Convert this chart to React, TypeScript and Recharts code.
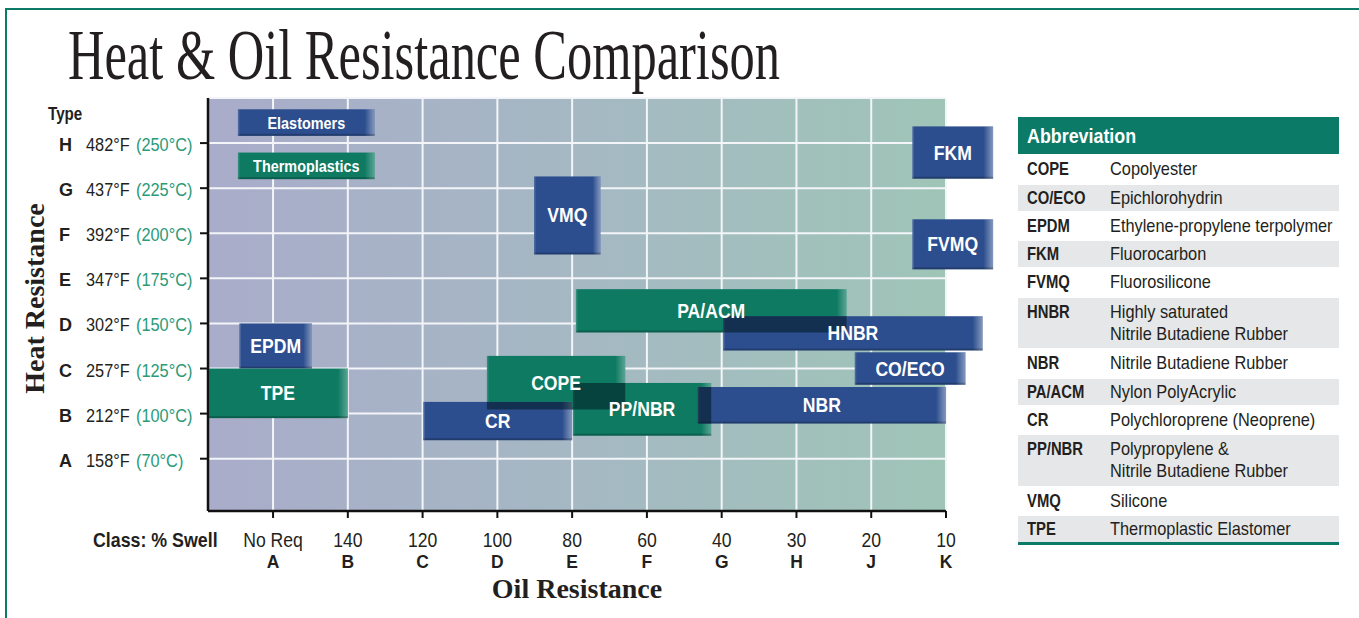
import React from "react";
import { ComposedChart, XAxis, YAxis, CartesianGrid, ReferenceArea, Label } from "recharts";

// x: oil resistance class (A = 0 ... K = 9), y: heat resistance type (A = 0 ... H = 7)
const oilClasses = ["A", "B", "C", "D", "E", "F", "G", "H", "J", "K"];
const oilSwell = ["No Req", "140", "120", "100", "80", "60", "40", "30", "20", "10"];
const heatTypes = ["A", "B", "C", "D", "E", "F", "G", "H"];
const heatF = ["158°F", "212°F", "257°F", "302°F", "347°F", "392°F", "437°F", "482°F"];
const heatC = ["(70°C)", "(100°C)", "(125°C)", "(150°C)", "(175°C)", "(200°C)", "(225°C)", "(250°C)"];

// material boxes (E = elastomer, T = thermoplastic)
const materials = ["Elastomers", "Thermoplastics", "FKM", "FVMQ", "VMQ", "EPDM", "TPE", "PA/ACM", "HNBR", "CO/ECO", "COPE", "CR", "PP/NBR", "NBR"];
const oilFrom = [-0.47, -0.47, 8.55, 8.55, 3.49, -0.45, -0.87, 4.05, 6.02, 7.78, 2.86, 2.01, 4.01, 5.68];
const oilTo = [1.36, 1.36, 9.63, 9.63, 4.38, 0.52, 1.0, 7.67, 9.49, 9.26, 4.71, 4.0, 5.86, 9.0];
const heatFrom = [7.16, 6.2, 6.21, 4.2, 4.53, 2.0, 0.9, 2.8, 2.4, 1.64, 1.09, 0.41, 0.51, 0.78];
const heatTo = [7.75, 6.79, 7.37, 5.31, 6.26, 3.0, 2.0, 3.76, 3.16, 2.36, 2.28, 1.26, 1.68, 1.59];
const family = ["E", "T", "E", "E", "E", "E", "T", "T", "E", "E", "T", "E", "T", "E"];

// abbreviation table
const abbrevs = ["COPE", "CO/ECO", "EPDM", "FKM", "FVMQ", "HNBR", "NBR", "PA/ACM", "CR", "PP/NBR", "VMQ", "TPE"];
const meanings = [
  ["Copolyester"],
  ["Epichlorohydrin"],
  ["Ethylene-propylene terpolymer"],
  ["Fluorocarbon"],
  ["Fluorosilicone"],
  ["Highly saturated", "Nitrile Butadiene Rubber"],
  ["Nitrile Butadiene Rubber"],
  ["Nylon PolyAcrylic"],
  ["Polychloroprene (Neoprene)"],
  ["Polypropylene &", "Nitrile Butadiene Rubber"],
  ["Silicone"],
  ["Thermoplastic Elastomer"],
];

const SANS = "'Liberation Sans', Arial, Helvetica, sans-serif";
const SERIF = "'Liberation Serif', 'Times New Roman', serif";
const INK = "#231f20";
const BLUE = "#2c4e8e";
const GREEN = "#0e7a62";
const TEAL = "#0b7a67";

// overlapping parts of the boxes get darkened
const overlaps: { x1: number; x2: number; y1: number; y2: number }[] = [];
for (let i = 0; i < materials.length; i++) {
  for (let j = i + 1; j < materials.length; j++) {
    const x1 = Math.max(oilFrom[i], oilFrom[j]);
    const x2 = Math.min(oilTo[i], oilTo[j]);
    const y1 = Math.max(heatFrom[i], heatFrom[j]);
    const y2 = Math.min(heatTo[i], heatTo[j]);
    if (x2 - x1 > 0.02 && y2 - y1 > 0.02) overlaps.push({ x1, x2, y1, y2 });
  }
}

const CondText = ({ x, y, s = 0.88, size = 18, bold = false, fill = INK, anchor = "start", children }: any) => (
  <text
    transform={`translate(${x},${y}) scale(${s},1)`}
    x={0}
    y={0}
    textAnchor={anchor}
    fontFamily={SANS}
    fontSize={size}
    fontWeight={bold ? "bold" : "normal"}
    fill={fill}
  >
    {children}
  </text>
);

const HeatTick = (props: any) => {
  const { x, y, payload } = props;
  const i = payload.value;
  const by = y + 8;
  return (
    <g>
      <CondText x={x - 139} y={by} size={19} bold s={0.95}>{heatTypes[i]}</CondText>
      <CondText x={x - 112} y={by} size={19} s={0.86}>{heatF[i]}</CondText>
      <CondText x={x - 62} y={by} size={19} s={0.86} fill="#2a9a78">{heatC[i]}</CondText>
    </g>
  );
};

const OilTick = (props: any) => {
  const { x, y, payload } = props;
  const i = payload.value;
  return (
    <g>
      <CondText x={x} y={y + 27} size={20} anchor="middle">{oilSwell[i]}</CondText>
      <CondText x={x} y={y + 48} size={19} bold anchor="middle" s={0.92}>{oilClasses[i]}</CondText>
    </g>
  );
};

const boxShape = (fam: string) => (props: any) => {
  const { x, y, width, height } = props;
  const edge = Math.min(10, width * 0.12);
  return (
    <g>
      <rect x={x} y={y} width={width} height={height} fill={fam === "E" ? BLUE : GREEN} />
      <rect x={x + width - edge} y={y} width={edge} height={height} fill={`url(#fade${fam})`} />
      <rect x={x} y={y + height - 2} width={width} height={2} fill="#000" fillOpacity={0.22} />
      <rect x={x} y={y} width={1.5} height={height} fill="#fff" fillOpacity={0.15} />
    </g>
  );
};

const boxLabel = (name: string) => (props: any) => {
  const vb = props.viewBox || {};
  const cx = vb.x + vb.width / 2;
  const cy = vb.y + vb.height / 2;
  const small = name === "Elastomers" || name === "Thermoplastics";
  return (
    <CondText x={cx} y={cy + (small ? 6 : 7)} size={small ? 16 : 20} s={small ? 0.9 : 0.88} bold anchor="middle" fill="#fff">
      {name}
    </CondText>
  );
};

const HeatTitle = (props: any) => {
  const vb = props.viewBox || { x: 28, y: 98, width: 180, height: 413 };
  const x = vb.x + 16;
  const y = vb.y + vb.height / 2 - 6;
  return (
    <text transform={`rotate(-90 ${x} ${y})`} x={x} y={y} textAnchor="middle" fontFamily={SERIF} fontWeight="bold" fontSize={28} fill={INK}>
      Heat Resistance
    </text>
  );
};

const OilTitle = (props: any) => {
  const vb = props.viewBox || { x: 208, y: 511, width: 738, height: 70 };
  return (
    <text x={vb.x + vb.width / 2} y={vb.y + 87} textAnchor="middle" fontFamily={SERIF} fontWeight="bold" fontSize={28} fill={INK}>
      Oil Resistance
    </text>
  );
};

const Cond = ({ s, children }: any) => (
  <span style={{ display: "inline-block", transform: `scaleX(${s})`, transformOrigin: "left center", whiteSpace: "nowrap" }}>{children}</span>
);

const AbbrevTable = () => (
  <div style={{ position: "absolute", left: 1018, top: 117, width: 321, fontFamily: SANS, color: INK }}>
    <div style={{ background: TEAL, height: 37, display: "flex", alignItems: "center", paddingLeft: 9, color: "#fff", fontWeight: "bold", fontSize: 21 }}>
      <Cond s={0.85}>Abbreviation</Cond>
    </div>
    {abbrevs.map((ab, i) => {
      const lines = meanings[i];
      const grey = i % 2 === 1;
      const h = lines.length > 1 ? 50.5 : grey ? 26 : 30.5;
      return (
        <div
          key={ab}
          style={{
            position: "relative",
            height: h,
            background: grey ? "#e6e7e8" : "#fff",
            display: "flex",
            alignItems: lines.length > 1 ? "flex-start" : "center",
            paddingTop: lines.length > 1 ? 3 : 0,
            boxSizing: "border-box",
            fontSize: 19,
            lineHeight: "22px",
          }}
        >
          <div style={{ position: "absolute", left: 9, top: lines.length > 1 ? 3 : undefined, fontWeight: "bold" }}>
            <Cond s={0.78}>{ab}</Cond>
          </div>
          <div style={{ position: "absolute", left: 92, top: lines.length > 1 ? 3 : undefined }}>
            {lines.map((l) => (
              <div key={l}>
                <Cond s={0.86}>{l}</Cond>
              </div>
            ))}
          </div>
        </div>
      );
    })}
    <div style={{ height: 3, background: TEAL }} />
  </div>
);

export default function App() {
  return (
    <div style={{ position: "absolute", left: 0, top: 0, width: 1359, height: 618, background: "#fff", overflow: "hidden" }}>
      <div style={{ position: "absolute", left: 5, top: 8, width: 1400, height: 700, borderTop: `2px solid ${TEAL}`, borderLeft: `2px solid ${TEAL}` }} />
      <svg width={1359} height={618} style={{ position: "absolute", left: 0, top: 0 }}>
        <text x={68} y={79} fontFamily={SERIF} fontSize={72} fill={INK} textLength={712} lengthAdjust="spacingAndGlyphs">
          Heat &amp; Oil Resistance Comparison
        </text>
        <CondText x={48} y={120} size={19} bold s={0.8}>Type</CondText>
        <CondText x={93} y={547} size={20} bold s={0.89}>Class: % Swell</CondText>
      </svg>
      <ComposedChart
        width={1000}
        height={618}
        margin={{ top: 98, right: 54, bottom: 37, left: 28 }}
        style={{ position: "absolute", left: 0, top: 0 }}
      >
        <defs>
          <linearGradient id="plotBg" x1="0" y1="0" x2="1" y2="0">
            <stop offset="0%" stopColor="#a9acca" />
            <stop offset="50%" stopColor="#a5b8c3" />
            <stop offset="100%" stopColor="#9fc5b7" />
          </linearGradient>
          <linearGradient id="fadeE" x1="0" y1="0" x2="1" y2="0">
            <stop offset="0%" stopColor="#ffffff" stopOpacity={0} />
            <stop offset="100%" stopColor="#ffffff" stopOpacity={0.42} />
          </linearGradient>
          <linearGradient id="fadeT" x1="0" y1="0" x2="1" y2="0">
            <stop offset="0%" stopColor="#ffffff" stopOpacity={0} />
            <stop offset="100%" stopColor="#ffffff" stopOpacity={0.32} />
          </linearGradient>
        </defs>
        <CartesianGrid fill="url(#plotBg)" fillOpacity={1} stroke="#f3f5f8" strokeWidth={2} />

        {materials.map((m, i) => (
          <ReferenceArea
            key={`box-${m}`}
            x1={oilFrom[i]}
            x2={oilTo[i]}
            y1={heatFrom[i]}
            y2={heatTo[i]}
            ifOverflow="visible"
            shape={boxShape(family[i])}
          />
        ))}
        {overlaps.map((o, k) => (
          <ReferenceArea key={`ov-${k}`} x1={o.x1} x2={o.x2} y1={o.y1} y2={o.y2} ifOverflow="visible" fill="#031c24" fillOpacity={0.58} stroke="none" />
        ))}
        {materials.map((m, i) => (
          <ReferenceArea
            key={`lab-${m}`}
            x1={oilFrom[i]}
            x2={oilTo[i]}
            y1={heatFrom[i]}
            y2={heatTo[i]}
            ifOverflow="visible"
            fill="none"
            fillOpacity={0}
            stroke="none"
            label={boxLabel(m)}
          />
        ))}

        <XAxis
          type="number"
          dataKey="x"
          domain={[-0.87, 9]}
          allowDataOverflow
          ticks={[0, 1, 2, 3, 4, 5, 6, 7, 8, 9]}
          interval={0}
          height={70}
          tickSize={7}
          axisLine={{ stroke: "#111", strokeWidth: 2.5 }}
          tickLine={{ stroke: "#111", strokeWidth: 2 }}
          tick={(p: any) => <OilTick {...p} />}
        >
          <Label content={OilTitle} />
        </XAxis>
        <YAxis
          type="number"
          dataKey="y"
          domain={[-1.16, 8]}
          allowDataOverflow
          ticks={[0, 1, 2, 3, 4, 5, 6, 7]}
          interval={0}
          width={180}
          tickSize={8}
          axisLine={{ stroke: "#111", strokeWidth: 2.5 }}
          tickLine={{ stroke: "#111", strokeWidth: 2 }}
          tick={(p: any) => <HeatTick {...p} />}
        >
          <Label content={HeatTitle} />
        </YAxis>
      </ComposedChart>
      <AbbrevTable />
    </div>
  );
}
